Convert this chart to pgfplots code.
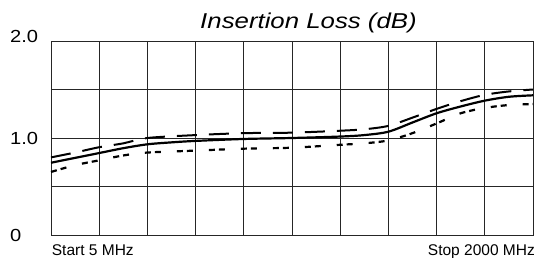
\documentclass[border=0pt]{standalone}
\usepackage{pgfplots}
\pgfplotsset{compat=1.18}
\usepackage{fontspec}
\setmainfont{Liberation Sans}
\newfontfamily\titlefont[FakeStretch=1.2]{Liberation Sans}
\newfontfamily\yfont[FakeStretch=1.15]{Liberation Sans}
\begin{document}
\begin{tikzpicture}
\begin{axis}[
  at={(0,0)}, anchor=south west,
  scale only axis, width=482bp, height=194bp,
  xmin=0, xmax=10, ymin=0, ymax=2,
  xtick={0,1,...,10}, xticklabels={},
  ytick={0,1,2}, yticklabels={0,1.0,\raisebox{9bp}{2.0}},
  minor ytick={0.5,1.5},
  grid=both,
  major grid style={black!85, line width=0.8bp},
  minor grid style={black!85, line width=0.8bp},
  axis line style={black!85, line width=0.8bp},
  major tick length=0pt, minor tick length=0pt,
  yticklabel style={anchor=west, inner sep=0pt, xshift=-41bp, font=\yfont\fontsize{17.5bp}{20bp}\selectfont},
  clip=false,
]
\addplot[black, line width=2.2bp, smooth, tension=0.5] coordinates {
(0,0.745)(0.5,0.795)(1,0.845)(1.5,0.895)(2,0.935)(2.5,0.955)(3,0.97)(4,0.99)(5,1.0)(6,1.015)(6.5,1.03)(7,1.065)(7.5,1.16)(8,1.255)(8.5,1.325)(9,1.385)(9.5,1.425)(10,1.44)};
\addplot[black, line width=2bp, smooth, tension=0.5, dash pattern=on 20bp off 12bp] coordinates {
(0,0.80)(0.5,0.85)(1,0.905)(1.5,0.945)(2,1.0)(3,1.03)(4,1.05)(5,1.055)(6,1.075)(6.5,1.09)(7,1.125)(7.5,1.21)(8,1.30)(8.5,1.38)(9,1.445)(9.5,1.48)(10,1.50)};
\addplot[black, line width=2.2bp, smooth, tension=0.5, dash pattern=on 6bp off 4bp on 6bp off 16bp] coordinates {
(0,0.65)(0.5,0.72)(1,0.77)(1.5,0.82)(2,0.85)(3,0.87)(4,0.89)(5,0.90)(6,0.93)(6.5,0.945)(7,0.975)(7.5,1.05)(8,1.15)(8.5,1.255)(9,1.31)(9.5,1.34)(10,1.35)};
\node[anchor=base west, inner sep=0pt, font=\fontsize{15.5bp}{18bp}\selectfont] at (rel axis cs:0,0) [xshift=0.7bp, yshift=-20bp] {Start 5 MHz};
\node[anchor=base east, inner sep=0pt, font=\fontsize{15.5bp}{18bp}\selectfont] at (rel axis cs:1,0) [xshift=2bp, yshift=-20bp] {Stop 2000 MHz};
\node[anchor=base, inner sep=0pt, font=\titlefont\itshape\fontsize{21.5bp}{24bp}\selectfont] at (rel axis cs:0,1) [xshift=257.5bp, yshift=12bp] {Insertion Loss (dB)};
\end{axis}
\pgfresetboundingbox
\path (-51bp,-23bp) rectangle (485bp,235bp);
\end{tikzpicture}
\end{document}
